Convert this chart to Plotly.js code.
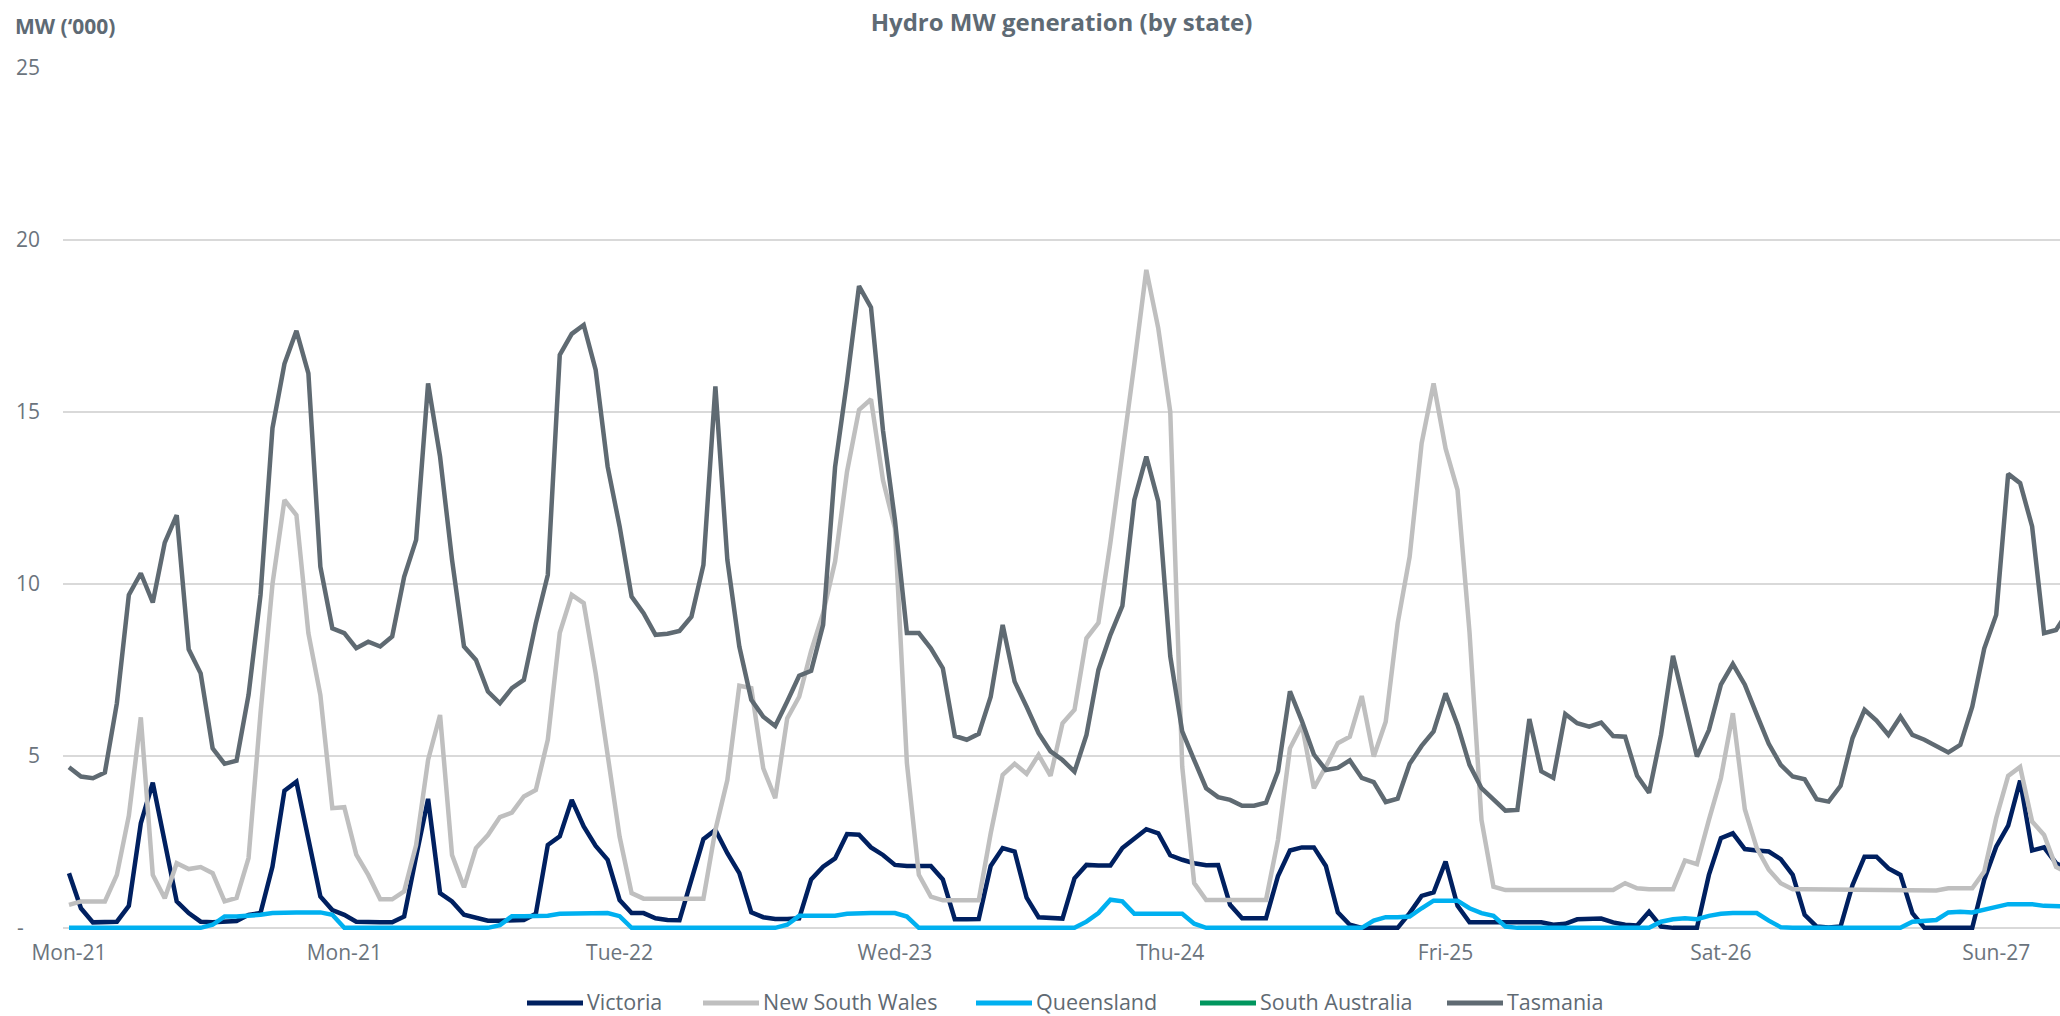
<!DOCTYPE html>
<html>
<head>
<meta charset="utf-8">
<script src="https://cdn.plot.ly/plotly-3.0.1.min.js"></script>
<style>
html,body{margin:0;padding:0;background:#fff;overflow:hidden;}
#chart{width:2060px;height:1016px;}
</style>
</head>
<body>
<div id="chart"></div>
<script>
// Hourly hydro generation, MW ('000), starting Mon-21 00:00
const victoria = [
1.59,0.57,0.16,0.18,0.18,0.64,3.04,4.22,2.41,0.77,
0.43,0.18,0.16,0.18,0.2,0.38,0.43,1.78,3.99,4.25,
2.56,0.91,0.52,0.38,0.18,0.16,0.16,0.16,0.33,2.07,
3.75,1.01,0.77,0.38,0.28,0.21,0.21,0.21,0.23,0.41,
2.41,2.66,3.72,2.95,2.38,1.98,0.81,0.43,0.43,0.28,
0.23,0.22,1.42,2.58,2.85,2.17,1.59,0.45,0.31,0.26,
0.26,0.28,1.41,1.78,2.02,2.73,2.71,2.34,2.12,1.83,
1.80,1.80,1.80,1.41,0.25,0.25,0.26,1.80,2.32,2.22,
0.88,0.31,0.28,0.27,1.44,1.83,1.81,1.81,2.32,2.60,
2.87,2.75,2.11,1.98,1.88,1.82,1.83,0.67,0.28,0.28,
0.28,1.51,2.25,2.34,2.34,1.80,0.45,0.09,0.0,0.0,
0.0,0.0,0.43,0.93,1.03,1.93,0.64,0.16,0.16,0.16,
0.16,0.16,0.14,0.16,0.09,0.12,0.25,0.25,0.27,0.16,
0.09,0.07,0.47,0.04,0.0,0.0,0.0,1.54,2.61,2.75,
2.29,2.25,2.22,2.0,1.54,0.38,0.04,0.01,0.04,1.25,
2.07,2.07,1.73,1.54,0.43,0.0,0.0,0.0,0.0,0.0,
1.40,2.36,2.97,4.28,2.25,2.34,1.88,1.7
];
const newSouthWales = [
0.67,0.77,0.77,0.77,1.54,3.26,6.12,1.54,0.86,1.88,
1.71,1.77,1.59,0.77,0.87,2.03,6.24,10.0,12.44,12.0,
8.57,6.77,3.48,3.51,2.13,1.54,0.83,0.83,1.06,2.41,
4.88,6.19,2.12,1.18,2.32,2.70,3.22,3.35,3.82,4.01,
5.47,8.58,9.68,9.44,7.4,5.0,2.65,1.01,0.85,0.85,
0.85,0.85,0.85,0.85,2.85,4.30,7.04,6.97,4.64,3.77,
6.09,6.72,8.05,9.15,10.65,13.27,15.06,15.37,13.02,11.62,
4.79,1.54,0.91,0.8,0.8,0.8,0.8,2.75,4.45,4.77,
4.48,5.03,4.42,5.95,6.34,8.42,8.87,11.2,13.7,16.4,
19.13,17.43,15.01,4.69,1.30,0.81,0.81,0.81,0.81,0.81,
0.81,2.56,5.22,5.90,4.06,4.69,5.37,5.56,6.74,4.98,
5.99,8.86,10.79,14.09,15.83,13.94,12.73,8.6,3.14,1.20,
1.10,1.10,1.10,1.12,1.12,1.12,1.12,1.12,1.12,1.10,
1.30,1.15,1.12,1.12,1.12,1.96,1.85,3.14,4.35,6.24,
3.45,2.32,1.69,1.30,1.12,1.12,1.12,1.12,1.12,1.12,
1.12,1.12,1.12,1.12,1.12,1.12,1.09,1.15,1.15,1.15,
1.64,3.19,4.42,4.68,3.09,2.70,1.77,1.6
];
const queensland = [
0,0,0,0,0,0,0,0,0,0,
0,0,0.09,0.33,0.33,0.35,0.38,0.43,0.45,0.45,
0.45,0.45,0.38,0,0,0,0,0,0,0,
0,0,0,0,0,0,0.08,0.34,0.34,0.34,
0.35,0.41,0.42,0.43,0.43,0.43,0.34,0,0,0,
0,0,0,0,0,0,0,0,0,0,
0.09,0.35,0.35,0.35,0.35,0.41,0.43,0.43,0.43,0.43,
0.33,0,0,0,0,0,0,0,0,0,
0,0,0,0,0,0.18,0.43,0.82,0.77,0.41,
0.41,0.41,0.41,0.41,0.12,0,0,0,0,0,
0,0,0,0,0,0,0,0,0,0.21,
0.31,0.31,0.33,0.57,0.79,0.79,0.79,0.57,0.43,0.35,
0.04,0,0,0,0,0,0,0,0,0,
0,0,0,0.18,0.25,0.28,0.25,0.35,0.41,0.43,
0.43,0.43,0.21,0.02,0,0,0,0,0,0,
0,0,0,0,0.18,0.21,0.23,0.45,0.47,0.45,
0.52,0.6,0.69,0.69,0.69,0.64,0.64,0.62
];
const southAustralia = new Array(168).fill(null); // no visible values in the reference
const tasmania = [
4.67,4.40,4.35,4.52,6.53,9.68,10.31,9.46,11.2,12.0,
8.10,7.40,5.22,4.77,4.86,6.77,9.68,14.53,16.4,17.36,
16.12,10.5,8.71,8.57,8.13,8.32,8.18,8.47,10.21,11.28,
15.83,13.7,10.7,8.18,7.79,6.87,6.53,6.97,7.21,8.86,
10.26,16.66,17.27,17.53,16.22,13.41,11.67,9.63,9.15,8.52,
8.55,8.63,9.05,10.55,15.74,10.7,8.18,6.63,6.14,5.87,
6.58,7.33,7.47,8.81,13.4,15.9,18.66,18.04,14.47,11.86,
8.57,8.57,8.13,7.55,5.58,5.47,5.64,6.72,8.81,7.16,
6.43,5.66,5.13,4.88,4.54,5.61,7.5,8.52,9.36,12.44,
13.7,12.4,7.9,5.71,4.88,4.06,3.80,3.72,3.55,3.55,
3.64,4.55,6.88,6.01,5.04,4.59,4.65,4.87,4.36,4.24,
3.66,3.76,4.77,5.29,5.71,6.82,5.90,4.74,4.06,3.74,
3.41,3.43,6.07,4.55,4.36,6.22,5.95,5.85,5.97,5.58,
5.56,4.42,3.93,5.61,7.91,6.45,4.98,5.75,7.07,7.67,
7.07,6.2,5.35,4.74,4.40,4.32,3.74,3.67,4.13,5.52,
6.34,6.03,5.61,6.14,5.61,5.47,5.27,5.10,5.32,6.43,
8.12,9.1,13.2,12.93,11.67,8.57,8.66,9.2
];
const tickLabels = ["Mon-21","Mon-21","Tue-22","Wed-23","Thu-24","Fri-25","Sat-26","Sun-27"];
const labelEvery = 23; // category label interval
const yTickVals = [0,5,10,15,20,25];
const yTickText = ["-\u00a0\u00a0\u00a0","5","10","15","20","25"];

const hours = victoria.map((_, i) => i);
const tickPos = tickLabels.map((_, k) => k * labelEvery);

const series = [
  {name:"Victoria", y: victoria, color:"#002060"},
  {name:"New South Wales", y: newSouthWales, color:"#BFBFBF"},
  {name:"Queensland", y: queensland, color:"#00B0F0"},
  {name:"South Australia", y: southAustralia, color:"#00965E"},
  {name:"Tasmania", y: tasmania, color:"#5F6A72"}
];

const traces = series.map(s => ({
  type:"scatter", mode:"lines", name:s.name, x: hours, y: s.y,
  line:{color:s.color, width:4.5}, hoverinfo:"skip", showlegend:false
}));

// custom legend (pixel layout of the reference legend row)
const W = 2060, H = 1016, ML = 63, MR = 0, MT = 68, MB = 84;
const pw = W - ML - MR, ph = H - MT - MB;
const px2x = p => (p - ML) / pw;
const py2y = p => (H - MB - p) / ph;
const legendStarts = [527, 703, 976, 1200, 1447];
const legendY = 1001;
const shapes = [], annotations = [];
series.forEach((s, k) => {
  const x0 = legendStarts[k];
  shapes.push({type:"line", xref:"paper", yref:"paper",
    x0:px2x(x0), x1:px2x(x0 + 56), y0:py2y(legendY + 2), y1:py2y(legendY + 2),
    line:{color:s.color, width:5}});
  annotations.push({text:s.name, xref:"paper", yref:"paper",
    x:px2x(x0 + 58), xanchor:"left", y:py2y(legendY), yanchor:"middle",
    showarrow:false, font:{size:21.5, color:"#5F6A73"}});
});

const font = "'Open Sans', 'DejaVu Sans', sans-serif";
annotations.push({text:"<b>MW (\u2018000)</b>", xref:"paper", yref:"paper",
  x:px2x(13), xanchor:"left", y:py2y(26), yanchor:"middle", showarrow:false,
  font:{family:font, size:21, color:"#5E6A74"}});

const layout = {
  width:W, height:H,
  margin:{l:ML, r:MR, t:MT, b:MB},
  paper_bgcolor:"#ffffff", plot_bgcolor:"#ffffff",
  font:{family:font, color:"#6B747D", size:20},
  title:{text:"<b>Hydro MW generation (by state)</b>", x:0.5, xref:"paper", xanchor:"center",
         y:0.978, yref:"container", yanchor:"middle",
         font:{family:font, size:24, color:"#5E6A74"}},
  xaxis:{range:[-0.5,166.33], tickvals:tickPos, ticktext:tickLabels, showgrid:false,
         zeroline:false, showline:false, ticks:"", tickfont:{size:21, color:"#6B747D"},
         ticklabelstandoff:6, fixedrange:true},
  yaxis:{range:[-0.12,25], tickvals:yTickVals, ticktext:yTickText, showgrid:true,
         gridcolor:"#D9D9D9", gridwidth:1.5, zeroline:true, zerolinecolor:"#D9D9D9",
         zerolinewidth:1.5, showline:false, ticks:"", tickfont:{size:21, color:"#6B747D"},
         ticklabelstandoff:22, fixedrange:true},
  showlegend:false,
  shapes: shapes,
  annotations: annotations
};

Plotly.newPlot("chart", traces, layout, {displayModeBar:false, staticPlot:true});
</script>
</body>
</html>
